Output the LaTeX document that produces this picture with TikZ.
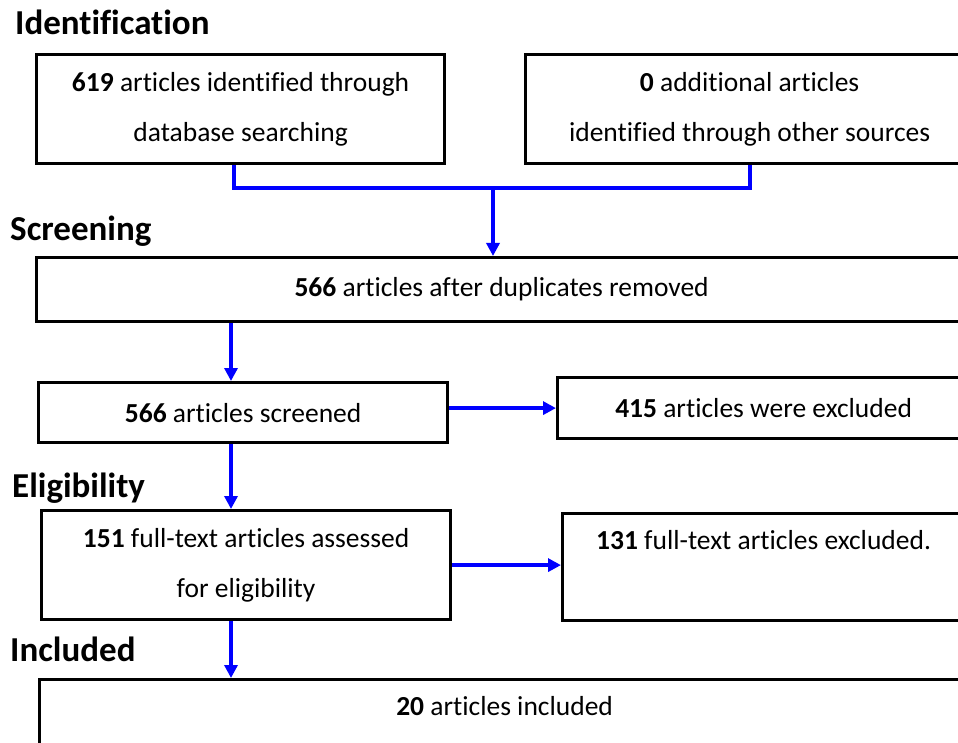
\documentclass[tikz,border=0pt]{standalone}
\usepackage{fontspec}
\setmainfont{Carlito}[Ligatures=NoCommon]
\usetikzlibrary{arrows.meta}
\tikzset{
  box/.style={draw=black, line width=3.2pt, fill=white, align=center, inner sep=0pt,
    anchor=north west, font=\fontsize{27.5}{50}\selectfont},
  link/.style={draw=blue, line width=4pt},
  flow/.style={link, -{Triangle[length=13pt,width=13pt]}},
  head/.style={anchor=base west, inner sep=0pt, font=\fontsize{35}{40}\selectfont\bfseries},
}
\begin{document}
\begin{tikzpicture}[x=1pt,y=-1pt]
  \useasboundingbox (0,0) rectangle (958,743);
  \clip (0,0) rectangle (958,743);

  % Drawing stage headings
  \node[head] (hident) at (15,35) {Identification};
  \node[head] (hscreen) at (10,241) {Screening};
  \node[head] (helig) at (12,497) {Eligibility};
  \node[head] (hincl) at (10,661) {Included};

  % Drawing box for identification
  \node[box, minimum width=408pt, minimum height=109pt] (dbase) at (35,53)
    {\textbf{619} articles identified through\\ database searching};
  \node[box, minimum width=448pt, minimum height=109pt] (other) at (524,53)
    {\textbf{0} additional articles\\ identified through other sources};

  % Drawing box for screening
  \node[box, minimum width=930pt, minimum height=64pt] (dedup) at (35,256)
    {\textbf{566} articles after duplicates removed\vphantom{y}};
  \node[box, minimum width=409pt, minimum height=60pt] (screen) at (37,381)
    {\textbf{566} articles screened};
  \node[box, minimum width=412pt, minimum height=61pt] (excl) at (556,376)
    {\textbf{415} articles were excluded};

  % Drawing box for eligibility
  \node[box, minimum width=409pt, minimum height=109pt] (elig) at (40,509)
    {\textbf{151} full-text articles assessed\\ for eligibility};
  \node[box, minimum width=402pt, minimum height=107pt] (fullexcl) at (561,512)
    {\textbf{131} full-text articles excluded.\\ \phantom{gy}};

  % Drawing box for included
  \node[box, minimum width=930pt, minimum height=108pt] (incl) at (38,678)
    {\textbf{20} articles included\\ \phantom{gy}};

  % Drawing merge of the two sources
  \coordinate (join) at (493,188);
  \draw[link] ([xshift=-7pt]dbase.south) |- (join);
  \draw[link] (other.south) |- (join);
  \draw[flow] (join) -- (join |- dedup.north);

  % Drawing arrows down the left side
  \coordinate (spine) at (231,0);
  \draw[flow] (spine |- dedup.south) -- (spine |- screen.north);
  \draw[flow] (spine |- screen.south) -- (spine |- elig.north);
  \draw[flow] (spine |- elig.south) -- (spine |- incl.north);

  % Drawing arrows to the excluded boxes
  \draw[flow] (screen.east |- excl.west) -- (excl.west);
  \draw[flow] (elig.east) -- (elig.east -| fullexcl.west);
\end{tikzpicture}
\end{document}
